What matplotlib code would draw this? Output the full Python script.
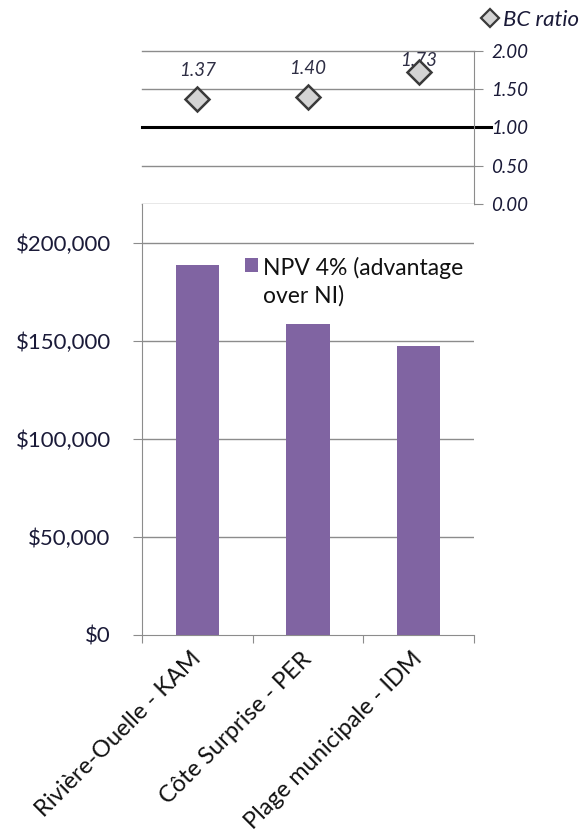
import matplotlib
matplotlib.use('Agg')
import matplotlib.pyplot as plt
from matplotlib.lines import Line2D
from matplotlib.patches import Rectangle
from matplotlib.ticker import FuncFormatter

# Data
sites = ['Rivière-Ouelle - KAM', 'Côte Surprise - PER', 'Plage municipale - IDM']
npv = [189000, 158700, 147500]
bc_ratio = [1.37, 1.40, 1.73]
bc_labels = ['1.37', '1.40', '1.73']
npv_ticks = [0, 50000, 100000, 150000, 200000]
bc_ticks = [0.0, 0.5, 1.0, 1.5, 2.0]

plt.rcParams['font.family'] = ['Lato', 'DejaVu Sans']

bar_color = '#8064A2'
grid_color = '#8C8C8C'
text_color = '#1A1A38'

fig = plt.figure(figsize=(5.87, 8.38), dpi=100)
ax_bc = fig.add_axes([0.2419, 0.7566, 0.5656, 0.1826])
ax = fig.add_axes([0.2419, 0.2426, 0.5656, 0.514])

x = list(range(len(sites)))

# Bottom panel: NPV bars
ax.bar(x, npv, width=0.39, color=bar_color, zorder=3)
ax.set_xlim(-0.5, len(sites) - 0.5)
ax.set_ylim(0, 220000)
ax.set_yticks(npv_ticks)
ax.yaxis.set_major_formatter(FuncFormatter(lambda v, p: f'${v:,.0f}'))
for v in npv_ticks[1:]:
    ax.axhline(v, color=grid_color, linewidth=1, zorder=1)

ax.set_xticks([i - 0.5 for i in range(len(sites) + 1)])
ax.set_xticklabels([])
ax.set_xticks(x, minor=True)
ax.set_xticklabels(sites, minor=True, rotation=45, ha='right',
                   va='center', rotation_mode='anchor', fontsize=17,
                   color='#111111')
ax.tick_params(axis='x', which='minor', length=0, pad=15)
ax.tick_params(axis='x', which='major', length=6, color=grid_color)
ax.tick_params(axis='y', length=6.5, color=grid_color, labelsize=16,
               labelcolor=text_color, pad=16)
for side in ('top', 'right'):
    ax.spines[side].set_visible(False)
for side in ('left', 'bottom'):
    ax.spines[side].set_color(grid_color)

# legend for the bars (key square aligned with the first line)
ax.add_patch(Rectangle((0.310, 0.8415), 0.039, 0.0325, transform=ax.transAxes,
                       facecolor=bar_color, edgecolor='none', clip_on=False))
ax.text(0.364, 0.819, 'NPV 4% (advantage\nover NI)', transform=ax.transAxes,
        ha='left', va='center', fontsize=16.5, linespacing=1.35,
        color='#111111')

# Top panel: BC ratio
ax_bc.set_xlim(-0.5, len(sites) - 0.5)
ax_bc.set_ylim(0, 2)
for v in bc_ticks:
    if v != 1.0:
        ax_bc.axhline(v, color=grid_color, linewidth=1, zorder=1, clip_on=False)
ax_bc.axhline(1.0, xmin=0, xmax=1.05, color='black', linewidth=2.2,
              zorder=2, clip_on=False)
ax_bc.plot(x, bc_ratio, linestyle='none', marker='D', markersize=12,
           markerfacecolor='#D4D4D4', markeredgecolor='#3A3A3A',
           markeredgewidth=1.8, zorder=4, clip_on=False)
for xi, yi, lab in zip(x, bc_ratio, bc_labels):
    # labels are kept inside the plot area
    ax_bc.text(xi, min(yi + 0.37, 1.88), lab, ha='center', va='center',
               fontsize=13.5, style='italic', color='#2E2E44')
ax_bc.yaxis.tick_right()
ax_bc.set_yticks(bc_ticks)
ax_bc.yaxis.set_major_formatter(FuncFormatter(lambda v, p: f'{v:.2f}'))
ax_bc.tick_params(axis='y', length=6.5, color=grid_color, labelsize=13.5,
                  labelcolor=text_color, pad=6)
for lab in ax_bc.get_yticklabels():
    lab.set_fontstyle('italic')
ax_bc.set_xticks([])
for side in ('top', 'left', 'bottom'):
    ax_bc.spines[side].set_visible(False)
ax_bc.spines['right'].set_color(grid_color)

bc_handle = [Line2D([], [], linestyle='none', marker='D', markersize=9.5,
                    markerfacecolor='#D4D4D4', markeredgecolor='#3A3A3A',
                    markeredgewidth=1.6)]
ax_bc.legend(bc_handle, ['BC ratio'], loc='lower left',
             bbox_to_anchor=(1.027, 1.14), frameon=False,
             handlelength=0.6, handletextpad=0.3, borderpad=0,
             borderaxespad=0, prop={'style': 'italic', 'size': 16},
             labelcolor=text_color)

fig.savefig('out.png', dpi=100, facecolor='white')
